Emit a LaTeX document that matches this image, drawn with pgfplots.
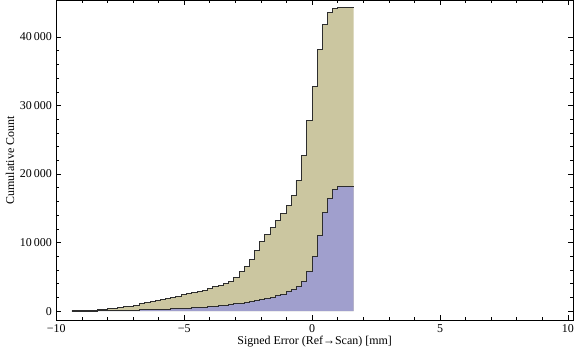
\documentclass[border=0pt]{standalone}
\usepackage{fontspec}
\setmainfont{Liberation Serif}
\usepackage{pgfplots}
\pgfplotsset{compat=1.18}
\usepackage{pgfplotstable}
\definecolor{beige}{RGB}{203,198,160}
\definecolor{lav}{RGB}{160,159,205}
\definecolor{edge}{RGB}{45,45,45}

\pgfplotstableread{
x      lower  total
-9.40  0      30
-9.01  20     146
-8.38  50     292
-7.99  70     438
-7.60  90     584
-7.37  110    730
-6.97  150    876
-6.75  180    1070
-6.54  210    1216
-6.33  243    1362
-6.14  270    1557
-5.94  290    1703
-5.75  310    1849
-5.54  330    2044
-5.34  360    2190
-5.12  380    2384
-4.91  400    2530
-4.70  487    2676
-4.49  540    2920
-4.30  580    3066
-4.09  633    3357
-3.89  680    3601
-3.68  779    3747
-3.47  830    3990
-3.26  925    4379
-3.08  1071   4866
-2.85  1140   5742
-2.66  1217   6520
-2.45  1363   7542
-2.26  1509   8807
-2.06  1703   10170
-1.85  1849   11191
-1.64  2044   12214
-1.44  2287   13235
-1.23  2482   14257
-1.02  2823   15474
-0.82  3114   16885
-0.63  3552   19074
-0.43  4282   22724
-0.21  5742   27834
0.00   8029   32749
0.20   11046  38198
0.41   14452  41848
0.60   16398  43551
0.81   17761  44184
1.01   18200  44330
1.62   18200  44330
}\data

\begin{document}
\begin{tikzpicture}[font=\fontsize{12}{14}\selectfont]
\begin{axis}[
  scale only axis,
  width=516.5bp, height=319.5bp,
  xmin=-10, xmax=10.2, ymin=-1310, ymax=45330,
  xtick={-10,-5,0,5,10},
  xticklabels={−10,−5,0,5,10},
  minor x tick num=4,
  ytick={0,10000,20000,30000,40000},
  yticklabels={0,10\,000,20\,000,30\,000,40\,000},
  minor y tick num=4,
  tick align=inside,
  major tick length=5bp, minor tick length=3bp,
  tick style={black, line width=0.6bp},
  axis line style={black, line width=0.6bp},
  xlabel={Signed Error (Ref→Scan) [mm]},
  ylabel={Cumulative Count},
  xlabel style={at={(axis description cs:0.5,-0.066)}, anchor=center},
  ylabel style={at={(axis description cs:-0.0896,0.5)}, anchor=center},
  xticklabel style={yshift=-1bp},
  yticklabel style={xshift=-1bp},
  axis on top,
]
\addplot[const plot mark left, fill=beige, draw=none] table[x=x, y=total] {\data} \closedcycle;
\addplot[const plot mark left, fill=lav, draw=none] table[x=x, y=lower] {\data} \closedcycle;
\addplot[const plot mark left, draw=edge, line width=0.9bp, no marks] table[x=x, y=total] {\data};
\addplot[const plot mark left, draw=edge, line width=0.9bp, no marks] table[x=x, y=lower] {\data};
\end{axis}
\pgfresetboundingbox
\path[use as bounding box] ([shift={(-56.3bp,-37bp)}]current axis.south west) rectangle ([shift={(3bp,0.5bp)}]current axis.north east);
\end{tikzpicture}
\end{document}
